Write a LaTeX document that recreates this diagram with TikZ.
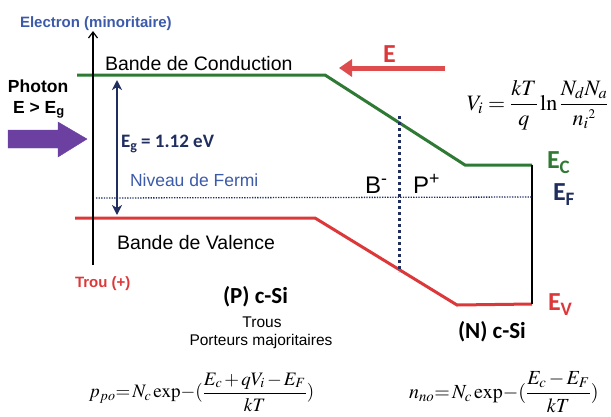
\documentclass[tikz,border=0pt]{standalone}
\usepackage{amsmath}
\usepackage{mathptmx}
\usepackage[no-math]{fontspec}
\setmainfont{Liberation Sans}
\newfontfamily\calib{Carlito}
\usetikzlibrary{arrows.meta,positioning}

\definecolor{bandgreen}{RGB}{46,122,52}
\definecolor{bandred}{RGB}{220,56,58}
\definecolor{navy}{RGB}{31,45,95}
\definecolor{fermiblue}{RGB}{60,90,170}
\definecolor{photonpurple}{RGB}{108,64,160}

\tikzset{
  band/.style={line width=3pt},
  lbl/.style={inner sep=0pt,outer sep=0pt,anchor=base west},
  fsz/.style={font=\fontsize{#1}{#1}\selectfont},
  eqn/.style={inner sep=0pt,outer sep=0pt,anchor=west}
}

\begin{document}
\begin{tikzpicture}[x=1pt,y=-1pt]
\useasboundingbox (0,0) rectangle (611,416);

% bandes
\coordinate (c0) at (77,75);  \coordinate (c1) at (325,75);
\coordinate (c2) at (465,165); \coordinate (c3) at (532,165);
\coordinate (v0) at (75,218);  \coordinate (v1) at (315,218);
\coordinate (v2) at (457,305); \coordinate (v3) at (532,304);
\draw [band,bandgreen] (c0) -- (c1) -- (c2) -- (c3);
\draw [band,bandred] (v0) -- (v1) -- (v2) -- (v3);
\draw [line width=2pt] (c3) -- (v3);

% niveau de Fermi
\coordinate (f0) at (96,198); \coordinate (f1) at (532,197);
\draw [navy,line width=1.3pt,dash pattern=on 1.3pt off 1.3pt] (f0) -- (f1);

% jonction
\coordinate (j0) at (399,116); \coordinate (j1) at (399,272);
\draw [navy,line width=3pt,dash pattern=on 3pt off 3pt] (j0) -- (j1);

% axe energie
\coordinate (ax0) at (93,265); \coordinate (ax1) at (93,31);
\draw [line width=1.2pt,-{Straight Barb[length=6pt,width=9pt]}] (ax0) -- (ax1);

% gap
\coordinate (g0) at (117,80); \coordinate (g1) at (117,215);
\draw [navy,line width=2pt,{Stealth[length=10pt,width=10pt,inset=3pt]}-{Stealth[length=10pt,width=10pt,inset=3pt]}] (g0) -- (g1);

% photon
\draw [photonpurple,fill=photonpurple] (8,130) -- (58,130) -- (58,122) -- (87,139) -- (58,157) -- (58,148) -- (8,148) -- cycle;

% champ E
\coordinate (e0) at (445,68); \coordinate (e1) at (339,68);
\draw [bandred!90!white,line width=5pt,-{Triangle[length=13pt,width=17pt]}] (e0) -- (e1);

% textes
\node[lbl,fsz=15,fermiblue] (electron) at (20,27) {\bfseries Electron (minoritaire)};
\node[lbl,fsz=15,bandred] (trou) at (75,287) {\bfseries Trou (+)};
\node[lbl,fsz=19.5] (bc) at (105,70) {Bande de Conduction};
\node[lbl,fsz=19.5] (bv) at (117,249) {Bande de Valence};
\node[lbl,fsz=17.5,fermiblue] (fermi) at (130,186) {Niveau de Fermi};
\node[lbl,fsz=17.5] (photon) at (8,92) {\bfseries Photon};
\node[lbl,fsz=17.5] (egt) at (13,113) {\bfseries E > E\textsubscript{g}};
\node[lbl,fsz=19,navy] (eg) at (121,147) {\calib\bfseries E\raisebox{-3pt}{\fontsize{14}{14}\selectfont g} = 1.12 eV};
\node[lbl,fsz=26,bandred] (champ) at (383,62) {\calib\bfseries E};
\node[lbl,fsz=24] (bmoins) at (365,193) {B\textsuperscript{-}};
\node[lbl,fsz=24] (pplus) at (413,193) {P\textsuperscript{+}};
\node[lbl,fsz=26,bandgreen] (ec) at (547,168) {\calib\bfseries E\raisebox{-5pt}{\fontsize{19}{19}\selectfont C}};
\node[lbl,fsz=26,navy] (ef) at (553,200) {\calib\bfseries E\raisebox{-5pt}{\fontsize{19}{19}\selectfont F}};
\node[lbl,fsz=26,bandred] (ev) at (548,310) {\calib\bfseries E\raisebox{-5pt}{\fontsize{19}{19}\selectfont V}};
\node[lbl,fsz=23] (psi) at (223,303) {\calib\bfseries (P) c-Si};
\node[fsz=15.5,inner sep=0pt] (trous) at (262,322) {Trous};
\node[fsz=15.5,inner sep=0pt] (porteurs) at (261,341) {Porteurs majoritaires};
\node[lbl,fsz=23] (nsi) at (458,338) {\calib\bfseries (N) c-Si};

% formules
\node[eqn,fsz=22] (vi) at (467,105) {$V_i=\dfrac{kT}{q}\ln\dfrac{N_dN_a}{n_i{}^{\scriptscriptstyle 2}}$};
\node[eqn,fsz=19] (ppo) at (89,392) {$\medmuskip=2mu\thickmuskip=2mu p_{po}\!=N_c\exp\!-(\dfrac{E_c+qV_i-E_F}{kT})$};
\node[eqn,fsz=20] (nno) at (409,392) {$\medmuskip=2mu\thickmuskip=2mu n_{no}\!=N_c\exp\!-(\dfrac{E_c-E_F}{kT})$};
\end{tikzpicture}
\end{document}
